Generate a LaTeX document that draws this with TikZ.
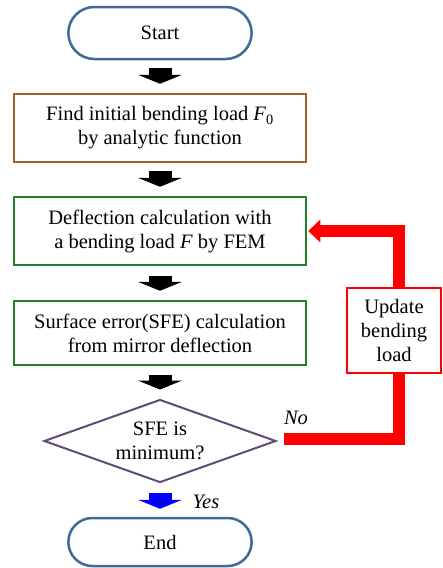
\documentclass[tikz,border=0pt]{standalone}
\usepackage{fontspec}
\setmainfont{Liberation Serif}
\usetikzlibrary{shapes.geometric, shapes.misc, arrows.meta}

\definecolor{termblue}{RGB}{65,105,150}
\definecolor{findbrown}{RGB}{165,95,40}
\definecolor{stepgreen}{RGB}{35,130,35}
\definecolor{decpurple}{RGB}{96,74,123}

\tikzset{
    every node/.style={font=\fontsize{20.5}{24}\selectfont, align=center},
    terminal/.style={rounded rectangle, draw=termblue, line width=2.5pt,
        minimum width=190pt, minimum height=52pt},
    stepbox/.style={rectangle, line width=2.5pt, minimum width=292pt},
    decision/.style={diamond, aspect=2.8, draw=decpurple, line width=2pt, inner sep=-4pt,
        minimum width=232pt, minimum height=83pt},
    updatebox/.style={rectangle, draw=red, fill=white, line width=1.3pt,
        minimum width=94pt, minimum height=85pt, inner sep=0pt},
    blockarrow/.style={line width=23pt, -{Triangle[length=9pt, width=44pt]}},
    loopline/.style={draw=red, line width=11.5pt},
}

\begin{document}
\begin{tikzpicture}[x=1pt, y=-1pt]
    \useasboundingbox (0,0) rectangle (443,568);

    % main chain
    \node[terminal] (start) at (160,33) {Start};
    \node[stepbox, draw=findbrown, minimum height=68pt] (find) at (160,128)
        {Find initial bending load \textit{F}\textsubscript{0}\\by analytic function};
    \node[stepbox, draw=stepgreen, minimum height=68pt] (fem) at (160,231)
        {Deflection calculation with\\a bending load \textit{F} by FEM};
    \node[stepbox, draw=stepgreen, minimum height=64pt] (sfe) at (160,333)
        {Surface error(SFE) calculation\\from mirror deflection};
    \node[decision] (dec) at (160,441) {SFE is\\minimum?};
    \node[terminal, minimum height=48pt] (end) at (160,542) {End};

    % block arrows
    \draw[blockarrow] ([yshift=-8pt]start.south) -- ([yshift=9pt]find.north);
    \draw[blockarrow] ([yshift=-8pt]find.south) -- ([yshift=9pt]fem.north);
    \draw[blockarrow] ([yshift=-10pt]fem.south) -- ([yshift=9pt]sfe.north);
    \draw[blockarrow] ([yshift=-9pt]sfe.south) -- ([yshift=9pt]dec.north);
    \draw[blockarrow, blue] ([yshift=-9pt]dec.south) -- ([yshift=8pt]end.north);
    \node[font=\fontsize{20.5}{24}\selectfont\itshape] (yes) at (206,502) {Yes};

    % red loop
    \coordinate (upbot) at (399,373);
    \coordinate (uptop) at (399,288);
    \draw[loopline] ([xshift=7pt,yshift=2pt]dec.east) -| (upbot);
    \draw[loopline, -{Triangle[length=12pt, width=22pt]}] (uptop) |- ([xshift=1pt]fem.east);
    \node[updatebox] (update) at (394,330.5) {Update\\bending\\load};
    \node[font=\fontsize{20.5}{24}\selectfont\itshape] (no) at (296,418) {No};
\end{tikzpicture}
\end{document}
